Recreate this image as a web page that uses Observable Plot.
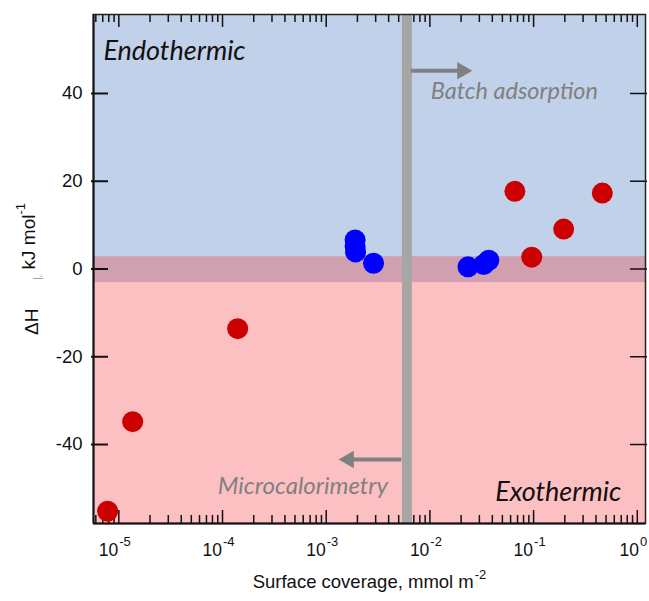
<!DOCTYPE html>
<html>
<head>
<meta charset="utf-8">
<script src="https://cdn.jsdelivr.net/npm/d3@7"></script>
<script src="https://cdn.jsdelivr.net/npm/@observablehq/plot@0.6"></script>
<style>
  html, body { margin: 0; padding: 0; background: white; }
</style>
</head>
<body>
<div id="chart"></div>
<script>
// ---------- data ----------
const redX  = [7.8e-6, 1.36e-5, 1.4e-4, 0.066, 0.096, 0.195, 0.46];
const redY  = [-55.2, -34.8, -13.6, 17.7, 2.7, 9.1, 17.3];
const blueX = [1.9e-3, 1.9e-3, 1.92e-3, 2.86e-3, 0.0233, 0.033, 0.037];
const blueY = [6.6, 5.2, 3.9, 1.3, 0.5, 1.0, 2.0];

const xMajorTicks = [1e-5, 1e-4, 1e-3, 1e-2, 1e-1, 1];
const xExponents  = ["-5", "-4", "-3", "-2", "-1", "0"];
const yMajorTicks = [-40, -20, 0, 20, 40];
const yTickLabels = ["-40", "-20", "0", "20", "40"];

const batchBoundary = [6e-3];           // vertical separator (mmol m^-2)
const endoBand = [0, 58];
const exoBand = [-58, 0];
const overlapBand = [-3.1, 2.8];

const xDomain = [5.7e-6, 1.2];
const yDomain = [-58, 58];

// ---------- layout ----------
const W = 649, H = 601;
const mL = 93, mR = 4, mT = 14, mB = 78;
const plotW = W - mL - mR, plotH = H - mT - mB;
const decadePx = plotW / Math.log10(xDomain[1] / xDomain[0]);
const unitPx = plotH / (yDomain[1] - yDomain[0]);
const xOff = (px) => Math.pow(10, px / decadePx);
const yOff = (px) => px / unitPx;

// minor log ticks (axis structure)
const xMinorTicks = [];
for (let e = -6; e <= 0; e++) for (let k = 2; k <= 9; k++) {
  const v = k * Math.pow(10, e);
  if (v > xDomain[0] && v < xDomain[1]) xMinorTicks.push(v);
}

const tickColor = "#111";
const red = "#cc0000", blue = "#0000ff";

const plot = Plot.plot({
  width: W, height: H,
  marginLeft: mL, marginRight: mR, marginTop: mT, marginBottom: mB,
  x: { type: "log", domain: xDomain, axis: null },
  y: { domain: yDomain, axis: null },
  style: { fontFamily: "'Liberation Sans', Arial, sans-serif", fontSize: "16px", background: "white", overflow: "visible" },
  marks: [
    // background zones
    Plot.rect([endoBand], { x1: xDomain[0], x2: xDomain[1], y1: d => d[0], y2: d => d[1], fill: "#c2d1ea" }),
    Plot.rect([exoBand], { x1: xDomain[0], x2: xDomain[1], y1: d => d[0], y2: d => d[1], fill: "#fdc0c2" }),
    Plot.rect([overlapBand], { x1: xDomain[0], x2: xDomain[1], y1: d => d[0], y2: d => d[1], fill: "#d09fb0" }),

    // minor & major ticks, bottom and top, inward
    Plot.ruleX(xMinorTicks, { x: d => d, y1: yDomain[0], y2: yDomain[0] + yOff(8), stroke: tickColor, strokeWidth: 1.5 }),
    Plot.ruleX(xMajorTicks, { x: d => d, y1: yDomain[0], y2: yDomain[0] + yOff(13), stroke: tickColor, strokeWidth: 1.5 }),
    Plot.ruleX(xMinorTicks, { x: d => d, y1: yDomain[1], y2: yDomain[1] - yOff(8), stroke: tickColor, strokeWidth: 1.5 }),
    Plot.ruleX(xMajorTicks, { x: d => d, y1: yDomain[1], y2: yDomain[1] - yOff(13), stroke: tickColor, strokeWidth: 1.5 }),
    // y ticks, left and right
    Plot.ruleY(yMajorTicks, { y: d => d, x1: xDomain[0] / xOff(2), x2: xDomain[0] * xOff(15), stroke: tickColor, strokeWidth: 2 }),
    Plot.ruleY(yMajorTicks, { y: d => d, x1: xDomain[1] / xOff(15), x2: xDomain[1] * xOff(2), stroke: tickColor, strokeWidth: 1.5 }),

    // batch / microcalorimetry boundary
    Plot.ruleX(batchBoundary, { x: d => d, stroke: "#a6a6a6", strokeWidth: 10 }),

    // arrows
    Plot.link([[6.55e-3, 0.0205, 45.2]], { x1: d => d[0], x2: d => d[1], y1: d => d[2], y2: d => d[2], stroke: "#808080", strokeWidth: 4 }),
    Plot.dot([[0.0205, 45.2]], { x: d => d[0], y: d => d[1], symbol: "triangle", rotate: 90, r: 6.5, fill: "#808080" }),
    Plot.link([[5.3e-3, 1.65e-3, -43.4]], { x1: d => d[0], x2: d => d[1], y1: d => d[2], y2: d => d[2], stroke: "#808080", strokeWidth: 4 }),
    Plot.dot([[1.65e-3, -43.4]], { x: d => d[0], y: d => d[1], symbol: "triangle", rotate: -90, r: 6.5, fill: "#808080" }),

    // data points
    Plot.dot(redX.map((x, i) => [x, redY[i]]), { x: d => d[0], y: d => d[1], r: 10.5, fill: red }),
    Plot.dot(blueX.map((x, i) => [x, blueY[i]]), { x: d => d[0], y: d => d[1], r: 10.5, fill: blue }),

    // annotations
    Plot.text(["Endothermic"], { x: 7.1e-6, y: 49.5, text: d => d, textAnchor: "start", fontSize: 27, fontStyle: "italic", fontFamily: "Lato", fill: "#111" }),
    Plot.text(["Exothermic"], { x: 0.70, y: -51, text: d => d, textAnchor: "end", fontSize: 27, fontStyle: "italic", fontFamily: "Lato", fill: "#111" }),
    Plot.text(["Batch adsorption"], { x: 0.0102, y: 40.5, text: d => d, textAnchor: "start", fontSize: 23.5, fontStyle: "italic", fontFamily: "Lato", fill: "#808080" }),
    Plot.text(["Microcalorimetry"], { x: 3.95e-3, y: -49.5, text: d => d, textAnchor: "end", fontSize: 24, fontStyle: "italic", fontFamily: "Lato", fill: "#808080" }),

    // frame
    Plot.frame({ stroke: "#222", strokeWidth: 1.5 }),
    Plot.ruleX([xDomain[0]], { x: d => d, stroke: "#111", strokeWidth: 2 }),
    Plot.ruleY([yDomain[0]], { y: d => d, stroke: "#111", strokeWidth: 2 }),

    // tick labels
    Plot.text(yMajorTicks, { x: xDomain[0], y: d => d, text: (d, i) => yTickLabels[i], textAnchor: "end", dx: -11, fontSize: 18.5, fill: "#111" }),
    Plot.text(xMajorTicks, { x: d => d, y: yDomain[0], text: (d, i) => "10|" + xExponents[i], dx: -4, dy: 27, fontSize: 17.5, fill: "#111", className: "xlab" }),

    // axis titles
    Plot.text(["Surface coverage, mmol m|-2"], { frameAnchor: "bottom", text: d => d, dy: 59, lineAnchor: "middle", fontSize: 18.5, fill: "#111", className: "xtitle" }),
    Plot.text(["ΔH|-1"], { frameAnchor: "left", text: d => d, dx: -62, rotate: -90, textAnchor: "middle", fontSize: 19, fill: "#111", className: "ytitle" })
  ]
});

// superscripts as real tspans
const svg = d3.select(plot);
svg.selectAll(".xlab text, .xtitle text").each(function () {
  const t = d3.select(this);
  const [base, sup] = t.text().split("|");
  t.text("");
  t.append("tspan").text(base);
  t.append("tspan").attr("dy", "-0.75em").attr("dx", "1").attr("font-size", "13").text(sup);
});
svg.selectAll(".ytitle text").each(function () {
  const t = d3.select(this);
  t.text("");
  t.append("tspan").text("ΔH\u2003\u2002");
  t.append("tspan").attr("font-size", "10").attr("fill", "#888").attr("dy", "0.3em").text("|,");
  t.append("tspan").attr("dy", "-0.3em").text(" kJ mol");
  t.append("tspan").attr("dy", "-0.75em").attr("font-size", "13").text("-1");
});

document.getElementById("chart").appendChild(plot);
</script>
</body>
</html>
